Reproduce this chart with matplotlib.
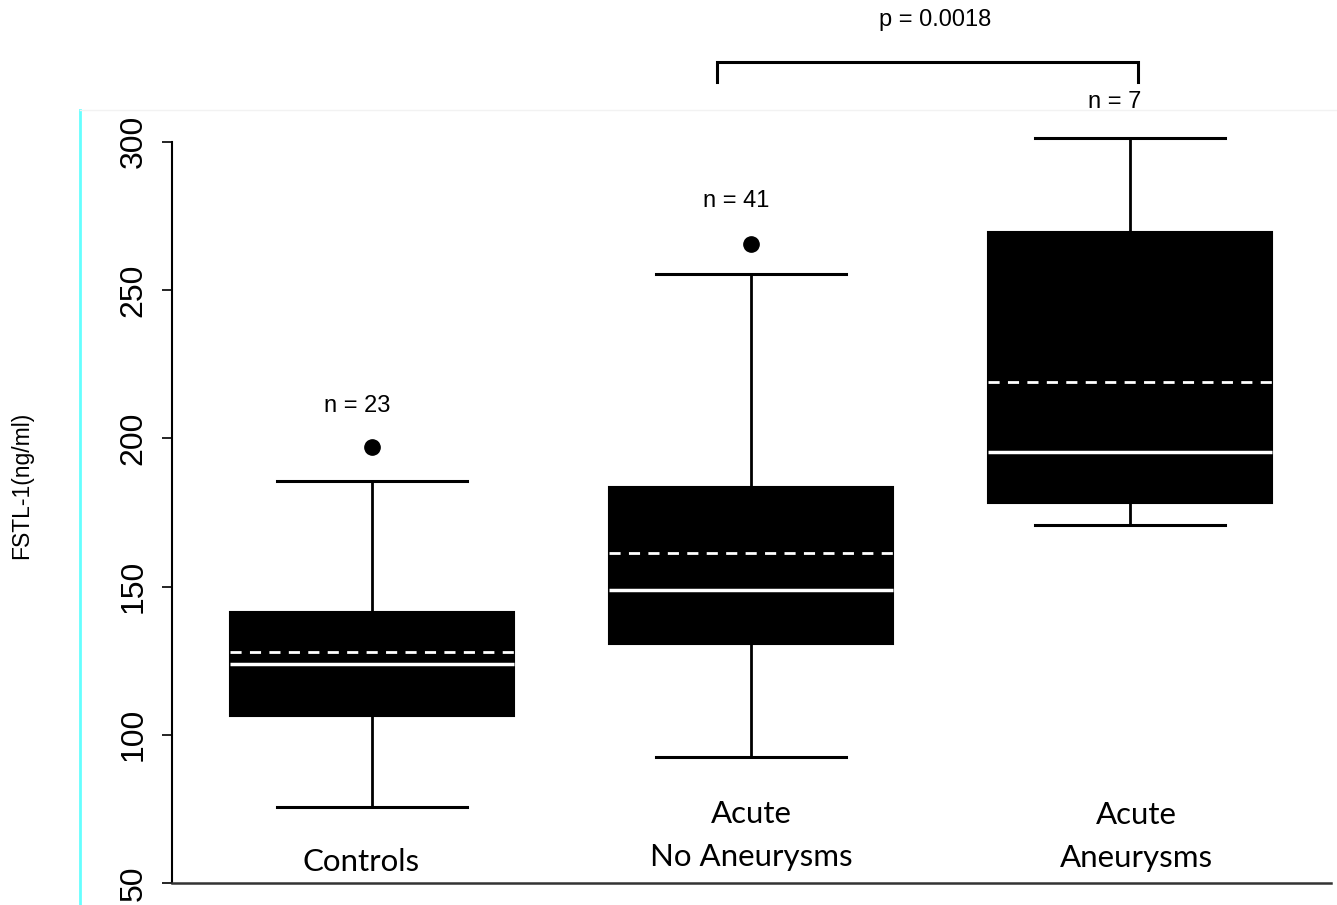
import matplotlib
matplotlib.use("Agg")
import matplotlib.pyplot as plt
from matplotlib.lines import Line2D

# group stats (ng/ml)
groups = ["Controls", "Acute\nNo Aneurysms", "Acute\nAneurysms"]
n_counts = [23, 41, 7]
medians = [123.9, 148.8, 195.4]
means = [127.9, 161.3, 219.0]
q1 = [106.3, 130.6, 178.2]
q3 = [141.4, 183.6, 269.6]
whis_lo = [75.6, 92.5, 170.7]
whis_hi = [185.6, 255.4, 301.3]
outliers = [[197.0], [265.5], []]
p_value = "p = 0.0018"
yticks = [50, 100, 150, 200, 250, 300]

W, H = 1337, 905
fig = plt.figure(figsize=(W / 100, H / 100), dpi=100)
# axes: x from 172px to 1331px, y=50 at 883px, 2.965 px per unit
ylo, yhi = 50, 345
ax = fig.add_axes([172 / W, 22 / H, 1159 / W, (yhi - ylo) * 2.965 / H])

stats = []
for i in range(len(groups)):
    stats.append(dict(med=medians[i], q1=q1[i], q3=q3[i], whislo=whis_lo[i],
                      whishi=whis_hi[i], mean=means[i], fliers=outliers[i]))

pos = [1, 2, 3]
ax.bxp(stats, positions=pos, widths=0.75, patch_artist=True,
       showmeans=True, meanline=True,
       boxprops=dict(facecolor="black", edgecolor="black", linewidth=1.5),
       medianprops=dict(color="white", linewidth=2.5),
       meanprops=dict(color="white", linestyle=(0, (4, 3)), linewidth=2),
       whiskerprops=dict(color="black", linewidth=2),
       capprops=dict(color="black", linewidth=2.2),
       capwidths=0.5,
       flierprops=dict(marker="o", markerfacecolor="black",
                       markeredgecolor="black", markersize=11))

ax.set_xlim(0.4723, 3.530)
ax.set_ylim(ylo, yhi)
ax.set_xticks([])
ax.set_yticks(yticks)
ax.set_yticklabels([str(t) for t in yticks], rotation=90, va="center",
                   fontsize=23, family="Liberation Sans")
ax.tick_params(axis="y", length=7, width=1.2, pad=10)
for s in ["top", "right"]:
    ax.spines[s].set_visible(False)
ax.spines["left"].set_bounds(50, 300)
ax.spines["left"].set_linewidth(1.5)
ax.spines["bottom"].set_linewidth(1.8)
ax.spines["bottom"].set_color("#333333")

# category names inside the plot, above the axis
label_dx = [-0.03, 0.0, 0.016]
label_y0 = [57.2, 58.7, 58.5]
for x, dx, y0, name in zip(pos, label_dx, label_y0, groups):
    lines = name.split("\n")[::-1]
    for k, ln in enumerate(lines):
        ax.text(x + dx, y0 + k * 14.5, ln, ha="center", va="center",
                fontsize=22.5, family="Lato")

# n labels above each group
n_y = [211.0, 280.0, 313.3]
for x, n, y in zip(pos, n_counts, n_y):
    ax.text(x - 0.04, y, f"n = {n}", ha="center", va="center",
            fontsize=17, family="Liberation Sans", clip_on=False)

# significance bracket between the two acute groups
bx0, bx1, by = 1.91, 3.02, 326.9
ax.plot([bx0, bx0, bx1, bx1], [by - 6.7, by, by, by - 6.7], color="black",
        lw=2.2, clip_on=False, solid_joinstyle="miter")
ax.text(2.486, 341, p_value, ha="center", va="center", fontsize=17,
        family="Liberation Sans", clip_on=False)

fig.text(22 / W, 1 - 485 / H, "FSTL-1(ng/ml)", rotation=90, ha="center",
         va="center", fontsize=16.5, family="Liberation Sans")

# frame edges left over from the original image
fig.add_artist(Line2D([80 / W, 80 / W], [0, 1 - 110 / H], color="#66ffff", lw=2))
fig.add_artist(Line2D([80 / W, 1], [1 - 110 / H, 1 - 110 / H], color="#f2f2f2", lw=1))

fig.savefig("out.png", dpi=100)
